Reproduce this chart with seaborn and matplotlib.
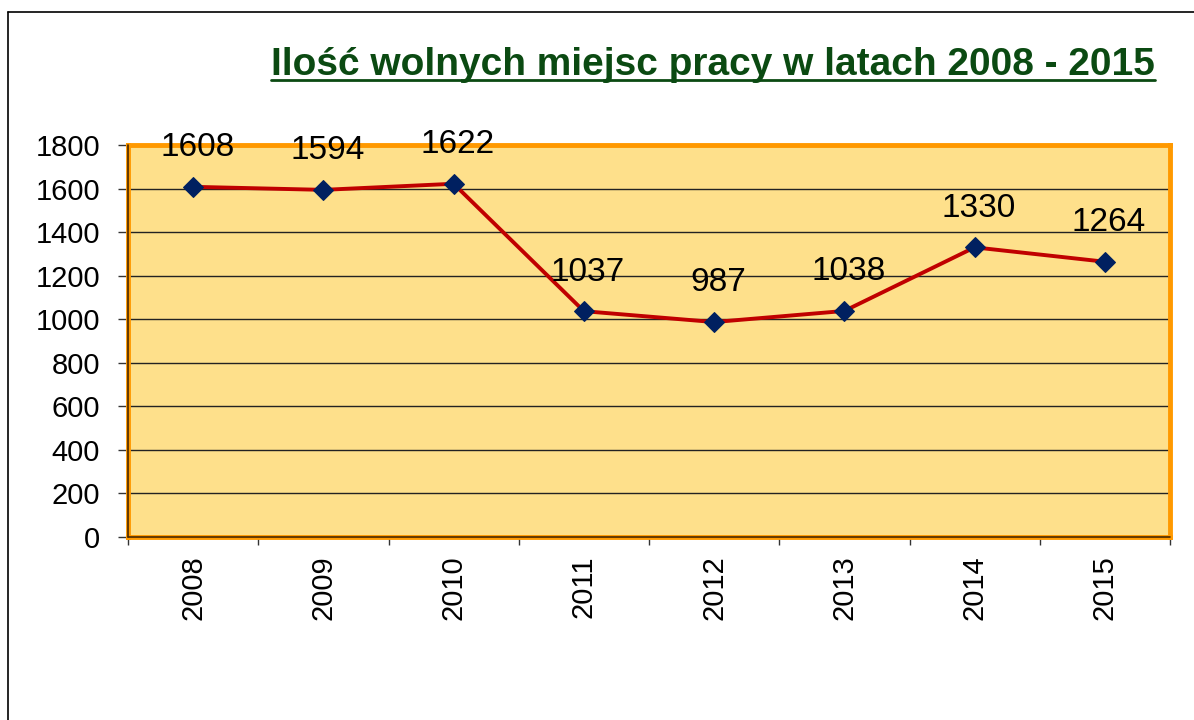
import matplotlib
matplotlib.use("Agg")
import matplotlib.pyplot as plt
import seaborn as sns
import pandas as pd
from matplotlib.lines import Line2D

years = ["2008", "2009", "2010", "2011", "2012", "2013", "2014", "2015"]
values = [1608, 1594, 1622, 1037, 987, 1038, 1330, 1264]
yticks = [0, 200, 400, 600, 800, 1000, 1200, 1400, 1600, 1800]
title = "Ilość wolnych miejsc pracy w latach 2008 - 2015"

sns.set_theme(style="white")
plt.rcParams['font.family'] = ['Liberation Sans', 'DejaVu Sans']

df = pd.DataFrame({"year": years, "value": values})

W, H = 1194, 720
fig = plt.figure(figsize=(W / 100, H / 100), dpi=100)
fig.patch.set_facecolor("white")

# outer frame (left and top lines)
fig.add_artist(Line2D([8 / W, 8 / W], [0, (H - 12) / H], color="black", lw=1.2, transform=fig.transFigure))
fig.add_artist(Line2D([8 / W, 1], [(H - 12) / H, (H - 12) / H], color="black", lw=1.2, transform=fig.transFigure))

ax = fig.add_axes([128 / W, (H - 537) / H, (1170 - 128) / W, (537 - 145) / H])
ax.set_facecolor("#FEE08B")

sns.lineplot(data=df, x="year", y="value", ax=ax, color="#C00000", lw=2.8,
             marker="D", markersize=10, markerfacecolor="#002060",
             markeredgecolor="#002060", zorder=5, sort=False)

ax.set_xlim(-0.5, len(years) - 0.5)
ax.set_ylim(0, 1800)
ax.set_yticks(yticks)
ax.set_yticklabels([str(v) for v in yticks], fontsize=21, color="black")
ax.set_xticks(range(len(years)))
ax.set_xticklabels(years, rotation=90, fontsize=21, color="black")
ax.set_xticks([i - 0.5 for i in range(len(years) + 1)], minor=True)
ax.tick_params(axis="x", which="major", length=0, pad=13)
ax.tick_params(axis="x", which="minor", length=6, width=1, color="#333333", direction="out", bottom=True)
ax.tick_params(axis="y", which="major", length=7, width=1, color="#333333", direction="out", left=True, pad=13)
ax.set_xlabel("")
ax.set_ylabel("")

for v in yticks[1:-1]:
    ax.axhline(v, color="#222222", lw=1.0, zorder=1)

for s in ax.spines.values():
    s.set_color("#FF9900")
    s.set_linewidth(3.5)
ax.axvline(-0.5, color="#4a2a00", lw=1.2, zorder=6, clip_on=False)
ax.axhline(0, color="#4a2a00", lw=1.2, zorder=6, clip_on=False)

for i, v in enumerate(values):
    ax.annotate(str(v), (i, v), xytext=(3, 22), textcoords="offset points",
                ha="center", va="baseline", fontsize=24, color="black", zorder=7)

t = fig.text(713 / W, (H - 75) / H, title, ha="center", va="baseline",
             fontsize=28, fontweight="bold", color="#0B4A12")
fig.canvas.draw()
bb = t.get_window_extent(renderer=fig.canvas.get_renderer())
uy = (H - 80) / H
fig.add_artist(Line2D([bb.x0 / W, bb.x1 / W], [uy, uy], color="#0B4A12", lw=2,
                      transform=fig.transFigure))

fig.savefig("out.png", dpi=100)
